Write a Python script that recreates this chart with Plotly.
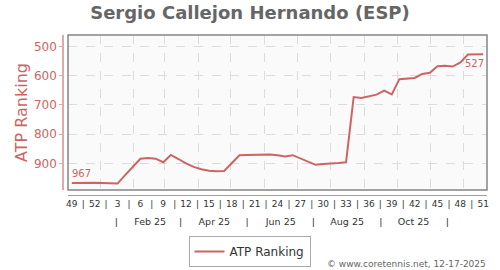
import plotly.graph_objects as go
import pandas as pd

player = "Sergio Callejon Hernando (ESP)"
series_name = "ATP Ranking"

week_numbers = [49, 50, 51, 52, 1, 2, 3, 4, 5, 6, 7, 8, 9, 10, 11, 12, 13, 14, 15, 16,
                17, 18, 19, 20, 21, 22, 23, 24, 25, 26, 27, 28, 29, 30, 31, 32, 33, 34,
                35, 36, 37, 38, 39, 40, 41, 42, 43, 44, 45, 46, 47, 48, 49, 50, 51]

ranking = [967, 966, 965, 966, 967, 968, 969, 940, 912, 884, 882, 884, 896,
           871, 885, 900, 912, 920, 925, 927, 926,
           899, 872, 871, 870, 869, 870, 872, 876, 872,
           883, 894, 905, 902, 901, 899, 896,
           673, 676, 671, 665, 651, 664, 612, 610, 608,
           594, 590, 568, 566, 569, 555, 528, 527, 527]

y_ticks = [500, 600, 700, 800, 900]
month_labels = ["Feb 25", "Apr 25", "Jun 25", "Aug 25", "Oct 25"]
month_label_dates = ["2025-02-16", "2025-04-16", "2025-06-16", "2025-08-16", "2025-10-16"]
month_sep_dates = ["2025-01-16", "2025-03-16", "2025-05-16", "2025-07-16", "2025-09-16", "2025-11-16"]
grid_month_starts = pd.date_range("2025-01-01", "2025-12-01", freq="MS")
footer = "© www.coretennis.net, 12-17-2025"

week_dates = pd.date_range("2024-12-06", periods=len(ranking), freq="7D")

RED = "#cd6464"
RED_AXIS = "#e2a9a9"

# week tick labels every 3 weeks, separators in between
lab_idx = list(range(0, len(week_dates), 3))
wk_vals = [week_dates[i] for i in lab_idx]
wk_text = [str(week_numbers[i]) for i in lab_idx]
sep_vals = [week_dates[i] + pd.Timedelta(days=10.5) for i in lab_idx[:-1]]
x_tickvals = wk_vals + sep_vals
x_ticktext = wk_text + ["|"] * len(sep_vals)

m_tickvals = [pd.Timestamp(d) for d in month_label_dates] + [pd.Timestamp(d) for d in month_sep_dates]
m_ticktext = month_labels + ["|"] * len(month_sep_dates)

xr = [week_dates[0] - pd.Timedelta(days=3.5), week_dates[-1] + pd.Timedelta(days=3.5)]

ML, MR, MT, MB = 63, 13, 35, 75
PW = 500 - ML - MR
PH = 270 - MT - MB

fig = go.Figure()
fig.add_trace(go.Scatter(x=week_dates, y=ranking, mode="lines", name=series_name,
                         line=dict(color=RED, width=2), xaxis="x", yaxis="y"))
fig.add_trace(go.Scatter(x=week_dates, y=ranking, mode="lines", showlegend=False,
                         hoverinfo="skip", line=dict(width=0, color="rgba(0,0,0,0)"),
                         xaxis="x2", yaxis="y"))

fig.add_annotation(x=week_dates[0], y=ranking[0], text=str(ranking[0]), showarrow=False,
                   xanchor="left", yanchor="bottom", xshift=-2, yshift=2,
                   font=dict(size=10, color=RED))
fig.add_annotation(x=week_dates[-1], y=ranking[-1], text=str(ranking[-1]), showarrow=False,
                   xanchor="right", yanchor="top", xshift=3, yshift=-2,
                   font=dict(size=10, color=RED))
fig.add_annotation(xref="paper", yref="paper", x=(488 - ML) / PW, y=(195 - 264) / PH,
                   text=footer, showarrow=False, xanchor="right", yanchor="middle",
                   font=dict(size=9, color="#666"))

fig.add_shape(type="rect", xref="x domain", yref="y domain", x0=0, x1=1, y0=0, y1=1,
              line=dict(color="#858585", width=1.5), layer="above")

fig.update_layout(
    width=500, height=270,
    margin=dict(l=ML, r=MR, t=MT, b=MB, autoexpand=False),
    paper_bgcolor="white", plot_bgcolor="#fafafa",
    font=dict(family="DejaVu Sans", color="#333"),
    title=dict(text="<b>" + player + "</b>", x=0.5, xanchor="center",
               y=1 - 13 / 270, yanchor="middle",
               font=dict(size=18, color="#666", family="DejaVu Sans")),
    showlegend=True,
    legend=dict(orientation="h", x=(249.5 - ML) / PW, xanchor="center",
                y=(195 - 236) / PH, yanchor="top", itemwidth=30,
                bordercolor="#aaa", borderwidth=1, bgcolor="white",
                font=dict(size=12, color="#333")),
    xaxis=dict(type="date", domain=[5 / PW, 1], range=xr, anchor="free", position=0,
               showline=True, linecolor="#a0a0a0", linewidth=1, showgrid=False,
               zeroline=False, tickmode="array", tickvals=x_tickvals, ticktext=x_ticktext,
               ticks="", tickangle=0, tickfont=dict(size=9, color="#333"),
               minor=dict(tickmode="array", tickvals=list(grid_month_starts), showgrid=True,
                          gridcolor="#dcdcdc", griddash="dash", gridwidth=1, ticks="")),
    xaxis2=dict(type="date", domain=[5 / PW, 1], range=xr, overlaying="x", anchor="free",
                position=0, showline=False, showgrid=False, zeroline=False,
                tickmode="array", tickvals=m_tickvals, ticktext=m_ticktext, ticks="",
                tickangle=0, ticklabelstandoff=19, tickfont=dict(size=9.5, color="#333")),
    yaxis=dict(domain=[5 / PH, 1], range=[991, 461], anchor="free", position=0,
               showline=True, linecolor=RED_AXIS, linewidth=1.5,
               ticks="outside", ticklen=3, tickcolor=RED_AXIS, tickwidth=1,
               tickmode="array", tickvals=y_ticks, tickfont=dict(size=12, color=RED),
               showgrid=True, gridcolor="#dcdcdc", griddash="dash", gridwidth=1,
               zeroline=False, automargin=False,
               title=dict(text=series_name, font=dict(size=16, color=RED), standoff=1)),
)

fig.write_html("out.html")
